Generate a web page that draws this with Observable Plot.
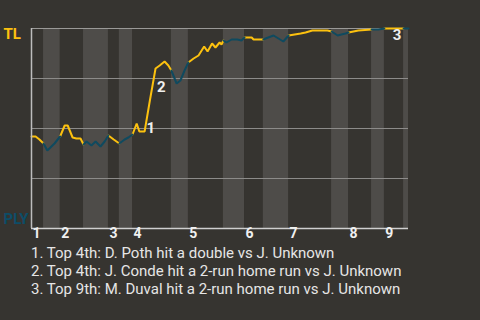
<!DOCTYPE html>
<html>
<head>
<meta charset="utf-8">
<script src="https://cdn.jsdelivr.net/npm/d3@7"></script>
<script src="https://cdn.jsdelivr.net/npm/@observablehq/plot@0.6"></script>
<style>
  html, body { margin: 0; padding: 0; background: #363430; }
  body { width: 480px; height: 320px; overflow: hidden; font-family: Roboto, "Noto Sans", sans-serif; }
  #caption { padding-left: 31px; padding-top: 1px; color: #e6e6e6; font-size: 15px; line-height: 18px; }
  #caption div { white-space: nowrap; }
</style>
</head>
<body>
<div id="chart"></div>
<div id="caption"></div>
<script>
// Game progress (percent of the game) and TL win probability (percent) after each play
const progress = [0, 1.1, 2.1, 3.2, 4.2, 6.1, 7.6, 8.8, 9.6, 10.9, 11.9, 13.0, 13.8, 14.6, 15.9, 17.0, 18.3, 19.4, 20.4, 21.8, 23.3, 24.7, 25.7, 26.8, 27.9, 28.6, 30.0, 31.4, 32.9, 34.0, 35.3, 36.3, 37.1, 38.5, 39.5, 40.6, 41.6, 43.0, 44.3, 45.8, 46.7, 47.9, 48.8, 49.9, 50.4, 50.9, 51.7, 53.1, 54.6, 55.7, 56.5, 58.4, 58.9, 61.5, 62.1, 64.2, 66.8, 68.2, 69.8, 71.4, 72.7, 74.5, 78.5, 79.6, 81.2, 82.2, 83.3, 84.1, 85.4, 86.7, 90.2, 92.0, 93.6, 95.0, 96.6, 98.7, 100];
const winProb = [46, 46, 44.5, 42.5, 39, 42.5, 46, 51.5, 51.5, 45.5, 45, 45, 42, 43.5, 41.5, 43.5, 41, 43.5, 46.5, 44.5, 42.5, 44.5, 45.5, 47, 52.5, 48.5, 48.5, 64, 80, 81.5, 83.5, 81.5, 79, 72.5, 74, 79, 83, 85, 86.5, 91, 88.5, 92.5, 90.5, 93, 92, 94, 93, 94.5, 94.5, 94, 95.5, 95.5, 94.5, 94.5, 95, 96.5, 93.5, 96.5, 97, 97.5, 98, 99, 99, 98.5, 96.5, 97, 97.5, 98, 98.5, 99, 99.5, 99.5, 100, 100, 100, 100, 100];

// Where each half-inning begins (percent of the game); the last value closes the game
const halfStarts = [0, 3.2, 7.6, 13.8, 20.4, 23.3, 26.8, 37.1, 41.6, 50.9, 56.5, 61.5, 68.2, 79.6, 84.1, 90.2, 93.6, 98.7, 100];
const inningLabels = ["1", "2", "3", "4", "5", "6", "7", "8", "9"];

// Key plays: index into the series above, marker number and description
const eventIndex = [27, 28, 73];
const eventNumber = ["1", "2", "3"];
const eventText = [
  "Top 4th: D. Poth hit a double vs J. Unknown",
  "Top 4th: J. Conde hit a 2-run home run vs J. Unknown",
  "Top 9th: M. Duval hit a 2-run home run vs J. Unknown"
];

const teamLabels = ["TL", "PLY"];
const teamWin = [100, 0];

const YELLOW = "#fcc10f";
const TEAL = "#0f4a5f";

// One line segment per half-inning, sharing the boundary points
const points = progress.map((x, i) => ({x, y: winProb[i]}));
const segments = [];
for (let h = 0; h < halfStarts.length - 1; h++) {
  const a = halfStarts[h], b = halfStarts[h + 1];
  for (const p of points) {
    if (p.x >= a - 1e-9 && p.x <= b + 1e-9) {
      segments.push({...p, half: h, top: h % 2 === 0});
    }
  }
}

// Bottom halves are shaded
const bands = [];
for (let h = 1; h < halfStarts.length - 1; h += 2) {
  bands.push({x1: halfStarts[h], x2: halfStarts[h + 1]});
}

const innings = inningLabels.map((label, i) => ({x: halfStarts[2 * i], label}));
const events = eventIndex.map((idx, i) => ({x: progress[idx], y: winProb[idx], label: eventNumber[i]}));
const teams = teamLabels.map((label, i) => ({label, y: teamWin[i]}));

const chart = Plot.plot({
  width: 480,
  height: 243,
  marginTop: 28,
  marginBottom: 15,
  marginLeft: 31,
  marginRight: 72,
  style: {background: "transparent", fontFamily: "Roboto, sans-serif", overflow: "visible"},
  x: {domain: [0, 100], axis: null},
  y: {domain: [0, 100], axis: null},
  marks: [
    Plot.rect(bands, {x1: "x1", x2: "x2", y1: 0, y2: 100, fill: "#4e4c49"}),
    Plot.ruleY([25, 50, 75], {stroke: "#8c8b89", strokeWidth: 1}),
    Plot.ruleY([100], {stroke: "#9a9997", strokeWidth: 1}),
    Plot.line(segments.filter(d => d.top), {x: "x", y: "y", z: "half", stroke: YELLOW, strokeWidth: 2, strokeLinejoin: "miter"}),
    Plot.line(segments.filter(d => !d.top), {x: "x", y: "y", z: "half", stroke: TEAL, strokeWidth: 2, strokeLinejoin: "miter"}),
    Plot.ruleY([0], {stroke: "#cfcfcf", strokeWidth: 1.5}),
    Plot.ruleX([0], {stroke: "#bdbdbd", strokeWidth: 1.5}),
    Plot.text(innings, {x: "x", text: "label", frameAnchor: "bottom", dy: 9, dx: 1, textAnchor: "start", fill: "#f0f0f0", fontSize: 14, fontWeight: "bold"}),
    Plot.text(teams.slice(0, 1), {y: "y", text: "label", frameAnchor: "left", dx: -28, dy: 5.5, textAnchor: "start", fill: YELLOW, fontSize: 15, fontWeight: "bold"}),
    Plot.text(teams.slice(1), {y: "y", text: "label", frameAnchor: "left", dx: -28, dy: -9, textAnchor: "start", fill: "#0d4d68", fontSize: 15, fontWeight: "bold"}),
    Plot.text(events.slice(0, 1), {x: "x", y: "y", text: "label", dx: -3.5, dy: 28, textAnchor: "start", fill: "#eeeeee", fontSize: 15, fontWeight: "bold"}),
    Plot.text(events.slice(1, 2), {x: "x", y: "y", text: "label", dx: 1.5, dy: 19, textAnchor: "start", fill: "#eeeeee", fontSize: 15, fontWeight: "bold"}),
    Plot.text(events.slice(2), {x: "x", y: "y", text: "label", dx: 3, dy: 7, textAnchor: "start", fill: "#eeeeee", fontSize: 15, fontWeight: "bold"})
  ]
});
document.getElementById("chart").appendChild(chart);

const cap = document.getElementById("caption");
eventText.forEach((t, i) => {
  const div = document.createElement("div");
  div.textContent = `${eventNumber[i]}. ${t}`;
  cap.appendChild(div);
});
</script>
</body>
</html>
